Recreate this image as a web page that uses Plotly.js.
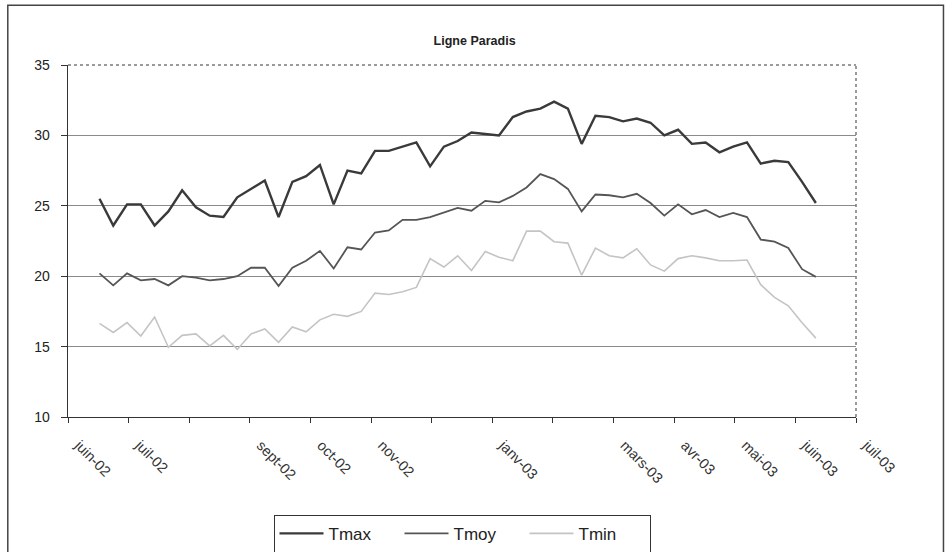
<!DOCTYPE html>
<html>
<head>
<meta charset="utf-8">
<script src="https://cdn.plot.ly/plotly-3.0.1.min.js"></script>
<style>
  html, body { margin: 0; padding: 0; background: #ffffff; }
  #chart { width: 947px; height: 552px; }
</style>
</head>
<body>
<div id="chart"></div>
<script>
// Weekly observation dates
const weeks = [
  "2002-06-17","2002-06-24","2002-07-01","2002-07-08","2002-07-15","2002-07-22","2002-07-29",
  "2002-08-05","2002-08-12","2002-08-19","2002-08-26","2002-09-02","2002-09-09","2002-09-16",
  "2002-09-23","2002-09-30","2002-10-07","2002-10-14","2002-10-21","2002-10-28","2002-11-04",
  "2002-11-11","2002-11-18","2002-11-25","2002-12-02","2002-12-09","2002-12-16","2002-12-23",
  "2002-12-30","2003-01-06","2003-01-13","2003-01-20","2003-01-27","2003-02-03","2003-02-10",
  "2003-02-17","2003-02-24","2003-03-03","2003-03-10","2003-03-17","2003-03-24","2003-03-31",
  "2003-04-07","2003-04-14","2003-04-21","2003-04-28","2003-05-05","2003-05-12","2003-05-19",
  "2003-05-26","2003-06-02","2003-06-09","2003-06-16"
];

const tmax = [25.5,23.6,25.1,25.1,23.6,24.6,26.1,24.9,24.3,24.2,25.6,26.2,26.8,24.2,26.7,27.1,27.9,25.1,
  27.5,27.3,28.9,28.9,29.2,29.5,27.8,29.2,29.6,30.2,30.1,30.0,31.3,31.7,31.9,32.4,31.9,29.4,31.4,31.3,
  31.0,31.2,30.9,30.0,30.4,29.4,29.5,28.8,29.2,29.5,28.0,28.2,28.1,26.7,25.2];

const tmoy = [20.2,19.35,20.2,19.7,19.8,19.35,20.0,19.9,19.7,19.8,20.0,20.6,20.6,19.3,20.6,21.1,21.8,20.55,
  22.05,21.9,23.1,23.25,24.0,24.0,24.2,24.5,24.85,24.65,25.35,25.25,25.7,26.3,27.25,26.9,26.2,24.6,25.8,25.75,
  25.6,25.85,25.2,24.3,25.1,24.4,24.7,24.2,24.5,24.2,22.6,22.45,22.0,20.5,19.95];

const tmin = [16.65,16.0,16.7,15.75,17.1,14.95,15.8,15.9,15.05,15.8,14.8,15.9,16.25,15.3,16.4,16.05,16.9,17.3,
  17.15,17.5,18.8,18.7,18.9,19.2,21.25,20.65,21.45,20.4,21.75,21.35,21.1,23.2,23.2,22.45,22.35,20.07,22.0,21.45,
  21.3,21.95,20.8,20.36,21.25,21.45,21.3,21.1,21.1,21.15,19.4,18.5,17.9,16.7,15.6];

// Axis tick labels (some positions unlabeled, as in the original)
const tickLabels = ["juin-02","juil-02","","sept-02","oct-02","nov-02","","janv-03","","mars-03","avr-03","mai-03","juin-03","juil-03"];
const seriesNames = ["Tmax","Tmoy","Tmin"];

// Equally spaced month ticks
const axisStart = Date.UTC(2002, 5, 1);
const tickStepDays = 30.8;
const tickvals = tickLabels.map((_, k) => axisStart + k * tickStepDays * 86400000);

const FONT = "Liberation Sans, Arial, Helvetica, sans-serif";

const traces = [
  { x: weeks, y: tmax, name: seriesNames[0], type: "scatter", mode: "lines",
    line: { color: "#3a3a3a", width: 2.4 } },
  { x: weeks, y: tmoy, name: seriesNames[1], type: "scatter", mode: "lines",
    line: { color: "#555555", width: 1.8 } },
  { x: weeks, y: tmin, name: seriesNames[2], type: "scatter", mode: "lines",
    line: { color: "#c4c4c4", width: 1.6 } }
];

const layout = {
  width: 947, height: 552,
  margin: { l: 68, r: 91, t: 65, b: 135, autoexpand: false },
  paper_bgcolor: "#ffffff",
  plot_bgcolor: "#ffffff",
  font: { family: FONT, color: "#222222" },
  title: {
    text: "<b>Ligne Paradis</b>",
    font: { family: FONT, size: 12.5, color: "#222222" },
    xref: "paper", x: 0.516, xanchor: "center",
    yref: "container", y: 0.927, yanchor: "middle"
  },
  xaxis: {
    type: "date",
    range: [tickvals[0], tickvals[tickvals.length - 1]],
    tickmode: "array", tickvals: tickvals, ticktext: tickLabels,
    tickangle: 45,
    ticklabelshift: 11, ticklabelstandoff: 8,
    ticks: "outside", ticklen: 5, tickcolor: "#333333", tickwidth: 1,
    showline: true, linecolor: "#333333", linewidth: 1.3,
    showgrid: false, zeroline: false,
    tickfont: { family: FONT, size: 14.5, color: "#333333" }
  },
  yaxis: {
    range: [10, 35],
    tickmode: "array", tickvals: [10, 15, 20, 25, 30, 35],
    ticks: "outside", ticklen: 6, tickcolor: "#333333", tickwidth: 1,
    ticklabelstandoff: 8,
    showline: true, linecolor: "#333333", linewidth: 1.3,
    showgrid: true, gridcolor: "#8a8a8a", gridwidth: 1.2,
    zeroline: false,
    tickfont: { family: FONT, size: 14, color: "#222222" }
  },
  showlegend: true,
  legend: {
    orientation: "h",
    x: 0.5, xanchor: "center",
    y: -0.278, yanchor: "top",
    bordercolor: "#333333", borderwidth: 1,
    bgcolor: "#ffffff",
    itemwidth: 44,
    entrywidth: 66,
    font: { family: FONT, size: 17, color: "#222222" }
  },
  shapes: [
    // dotted top and right plot-area border
    { type: "line", xref: "paper", yref: "paper", x0: 0, x1: 1, y0: 1, y1: 1,
      line: { color: "#7a7a7a", width: 1.5, dash: "dot" }, layer: "above" },
    { type: "line", xref: "paper", yref: "paper", x0: 1, x1: 1, y0: 0, y1: 1,
      line: { color: "#7a7a7a", width: 1.5, dash: "dot" }, layer: "above" },
    // outer chart frame
    { type: "rect", xref: "paper", yref: "paper",
      x0: -0.0764, x1: 1.111, y0: -0.45, y1: 1.170,
      line: { color: "#444444", width: 1.5 }, fillcolor: "rgba(0,0,0,0)", layer: "below" }
  ]
};

Plotly.newPlot("chart", traces, layout, { displayModeBar: false, staticPlot: true });
</script>
</body>
</html>
